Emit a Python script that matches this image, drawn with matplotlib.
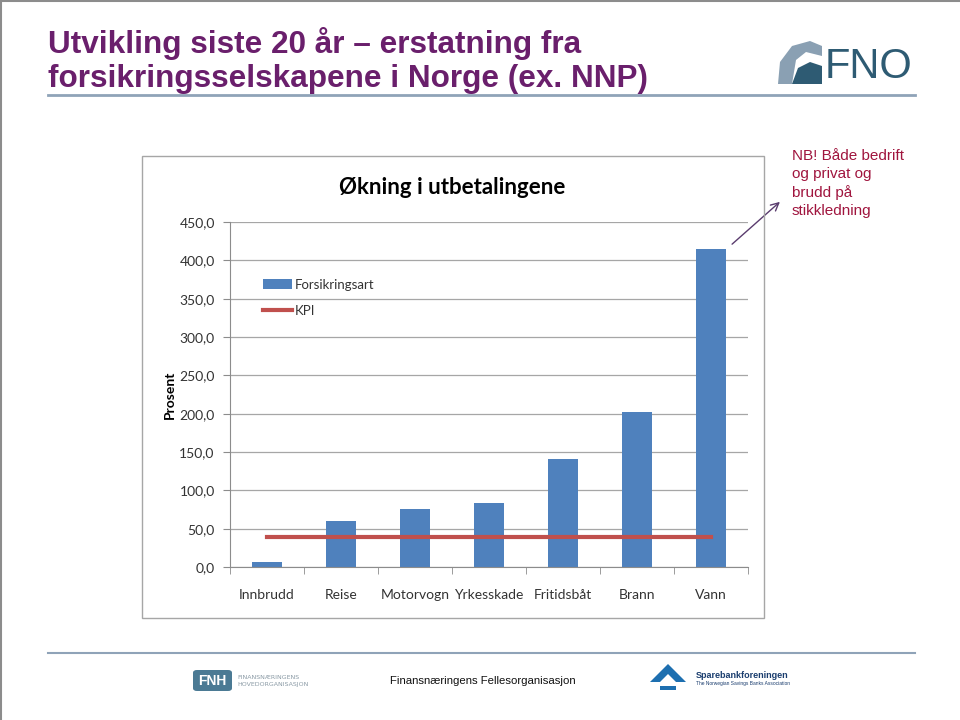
import matplotlib.pyplot as plt
from matplotlib.patches import Rectangle, FancyBboxPatch, Polygon
import numpy as np

# data
kategorier = ['Innbrudd', 'Reise', 'Motorvogn', 'Yrkesskade', 'Fritidsbåt', 'Brann', 'Vann']
okning = [7, 60, 76, 83, 141, 202, 415]
kpi = [39, 39, 39, 39, 39, 39, 39]
yticks = [0, 50, 100, 150, 200, 250, 300, 350, 400, 450]

W, H = 960, 720


def fx(px):
    return px / W


def fy(py):
    return 1 - py / H


fig = plt.figure(figsize=(9.6, 7.2), dpi=100)
fig.patch.set_facecolor('white')

# slide frame (gray edge top/left)
fig.add_artist(plt.Line2D([0.001, 0.001], [0, 1], color='#8c8c8c', lw=1.5))
fig.add_artist(plt.Line2D([0, 1], [0.999, 0.999], color='#8c8c8c', lw=1.5))

# slide title
fig.text(fx(48), fy(60.5), 'Utvikling siste 20 år – erstatning fra\nforsikringsselskapene i Norge (ex. NNP)',
         family=['Liberation Sans', 'DejaVu Sans'], fontweight='bold',
         fontsize=22.7, color='#6a1f6c', va='center', ha='left', linespacing=1.17)
fig.add_artist(plt.Line2D([fx(48), fx(915)], [fy(95), fy(95)], color='#8fa3b8', lw=2))
fig.add_artist(plt.Line2D([fx(48), fx(915)], [fy(653), fy(653)], color='#8fa3b8', lw=1.5))

# FNO logo
fig.add_artist(Polygon([[fx(778), fy(84)], [fx(780), fy(62)], [fx(792), fy(46)], [fx(810), fy(41)],
                        [fx(822), fy(46)], [fx(822), fy(56)], [fx(806), fy(52)], [fx(796), fy(60)],
                        [fx(792), fy(84)]],
                       closed=True, facecolor='#8aa0b3', edgecolor='none'))
fig.add_artist(Polygon([[fx(792), fy(84)], [fx(798), fy(68)], [fx(810), fy(62)], [fx(822), fy(66)],
                        [fx(822), fy(84)]],
                       closed=True, facecolor='#2e5b73', edgecolor='none'))
fig.text(fx(825), fy(67), 'FNO', family=['Liberation Sans', 'DejaVu Sans'], fontsize=30,
         color='#2e5b73', va='center', ha='left')

# chart frame
fig.add_artist(Rectangle((fx(142), fy(618)), fx(764) - fx(142), fy(156) - fy(618),
                         fill=False, edgecolor='#a6a6a6', lw=1))

fig.text(fx(452), fy(188), 'Økning i utbetalingene', family=['Lato', 'DejaVu Sans'],
         fontweight='bold', fontsize=16, ha='center', va='center', color='black')
fig.text(fx(170), fy(395), 'Prosent', family=['Lato', 'DejaVu Sans'], fontweight='bold',
         fontsize=10, rotation=90, ha='center', va='center')

ax = fig.add_axes([fx(230), fy(567), fx(748) - fx(230), fy(222) - fy(567)])
x = np.arange(len(kategorier))
bars = ax.bar(x, okning, width=0.4, color='#4f81bd', label='Forsikringsart', zorder=2)
line, = ax.plot(x, kpi, color='#c0504d', lw=3, label='KPI', zorder=3)

ax.set_xlim(-0.5, len(kategorier) - 0.5)
ax.set_ylim(0, 450)
ax.set_yticks(yticks)
ax.set_yticklabels([f'{v:.1f}'.replace('.', ',') for v in yticks])
ax.grid(axis='y', color='#a6a6a6', lw=0.9, zorder=0)
ax.set_axisbelow(True)
ax.set_xticks(x)
ax.set_xticklabels(kategorier)
ax.set_xticks(np.arange(-0.5, len(kategorier)), minor=True)
ax.tick_params(axis='x', which='major', length=0, pad=16)
ax.tick_params(axis='x', which='minor', length=5, color='#8c8c8c')
ax.tick_params(axis='y', length=5, color='#8c8c8c', pad=6)
for lab in ax.get_xticklabels() + ax.get_yticklabels():
    lab.set_family(['Lato', 'DejaVu Sans'])
    lab.set_fontsize(10)
    lab.set_color('#333333')
for s in ['top', 'right']:
    ax.spines[s].set_visible(False)
ax.spines['left'].set_color('#8c8c8c')
ax.spines['bottom'].set_color('#8c8c8c')

leg = ax.legend([bars, line], ['Forsikringsart', 'KPI'], loc='upper left',
                bbox_to_anchor=(0.04, 0.87), frameon=False,
                prop={'family': ['Lato', 'DejaVu Sans'], 'size': 9.5},
                handlelength=2.2, handletextpad=0.2, labelspacing=1.05)
for t in leg.get_texts():
    t.set_color('#333333')

# annotation
fig.text(fx(792), fy(149), 'NB! Både bedrift\nog privat og\nbrudd på\nstikkledning',
         family=['Liberation Sans', 'DejaVu Sans'], fontsize=11, color='#a0153e',
         va='top', ha='left', linespacing=1.36)
ax.annotate('', xy=(fx(782), fy(200)), xycoords='figure fraction',
            xytext=(fx(730), fy(246)), textcoords='figure fraction',
            arrowprops=dict(arrowstyle='->', color='#5a3c6e', lw=1, mutation_scale=14))

# footer logos
fig.add_artist(FancyBboxPatch((fx(193), fy(691)), fx(232) - fx(193), fy(670) - fy(691),
                              boxstyle='round,pad=0,rounding_size=0.004', facecolor='#4b7a94',
                              edgecolor='none'))
fig.text(fx(212), fy(681), 'FNH', color='white', fontweight='bold', fontsize=10,
         family=['Liberation Sans', 'DejaVu Sans'], ha='center', va='center')
fig.text(fx(237), fy(681), 'FINANSNÆRINGENS\nHOVEDORGANISASJON', color='#8a9aa5', fontsize=4.5,
         family=['DejaVu Sans'], ha='left', va='center', linespacing=1.6)
fig.text(fx(390), fy(681), 'Finansnæringens Fellesorganisasjon', color='#111111', fontsize=8.2,
         family=['Liberation Sans', 'DejaVu Sans'], ha='left', va='center')
fig.add_artist(Polygon([[fx(650), fy(682)], [fx(668), fy(664)], [fx(686), fy(682)],
                        [fx(676), fy(682)], [fx(668), fy(674)], [fx(660), fy(682)]],
                       closed=True, facecolor='#1d6fb0', edgecolor='none'))
fig.add_artist(Rectangle((fx(660), fy(690)), fx(676) - fx(660), fy(686) - fy(690),
                         facecolor='#1d6fb0', edgecolor='none'))
fig.text(fx(696), fy(676), 'Sparebankforeningen', color='#1a3d6e', fontsize=6.5, fontweight='bold',
         family=['Liberation Sans', 'DejaVu Sans'], ha='left', va='center')
fig.text(fx(696), fy(684), 'The Norwegian Savings Banks Association', color='#1a3d6e', fontsize=3.5,
         family=['Liberation Sans'], ha='left', va='center')

fig.savefig('out.png', dpi=100)
